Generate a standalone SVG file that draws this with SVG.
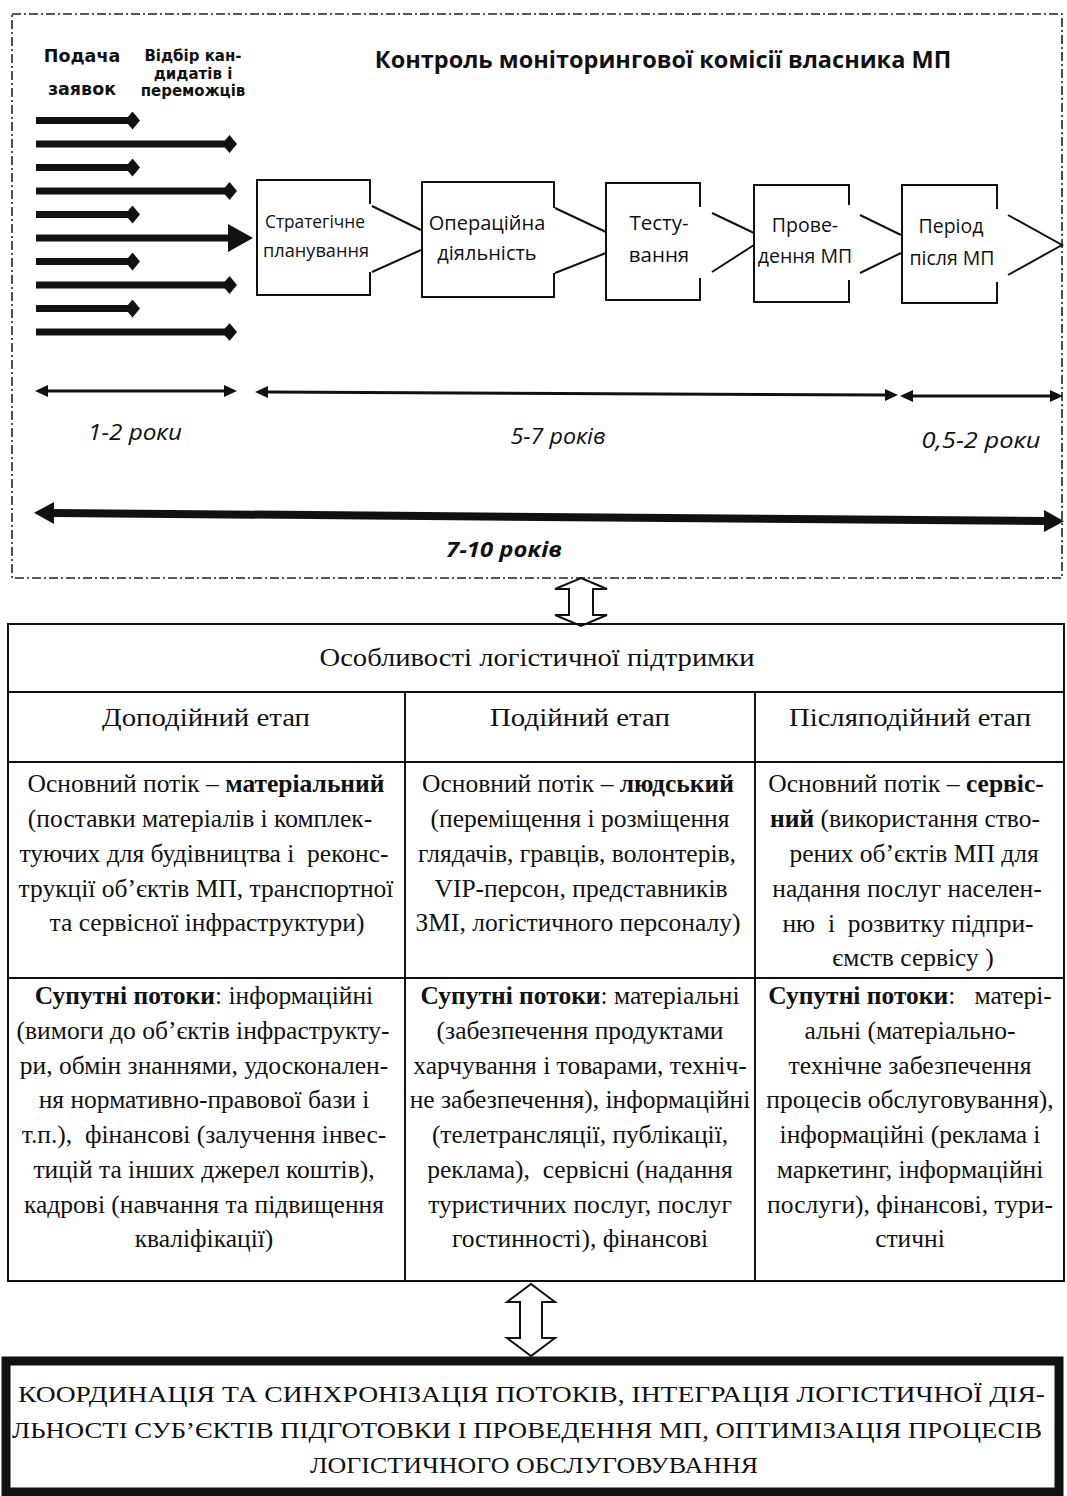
<svg xmlns="http://www.w3.org/2000/svg" width="1067" height="1496" viewBox="0 0 1067 1496">
<style>
.sans{font-family:"Open Sans","Noto Sans","DejaVu Sans",sans-serif;fill:#111}
.dj{font-family:"DejaVu Sans","Liberation Sans",sans-serif;font-weight:bold;fill:#111;text-anchor:middle}
.serif{font-family:"Liberation Serif","DejaVu Serif",serif;fill:#111}
.hd{font-weight:bold}
.bt{text-anchor:middle}
.lbl{font-size:21px;font-style:italic;text-anchor:middle}
.cell{font-size:25.5px;text-anchor:middle}
.chd{font-size:26px;text-anchor:middle}
.b{font-weight:bold}
.box{fill:none;stroke:#111;stroke-width:2}
.chev{fill:none;stroke:#111;stroke-width:2}
.frame{fill:none;stroke:#222;stroke-width:1.6;stroke-dasharray:9 3 2 3}
.grid{fill:none;stroke:#111;stroke-width:2}
.feed{stroke:#111;stroke-width:7;fill:none}
.span{stroke:#111;stroke-width:3;fill:none}
.hollow{fill:#fff;stroke:#111;stroke-width:2;stroke-linejoin:miter}
</style>
<defs>
<marker id="dia" markerUnits="userSpaceOnUse" viewBox="0 0 15 18" refX="7.5" refY="9" markerWidth="15" markerHeight="18" orient="auto"><path d="M0,9 L7.5,0 L15,9 L7.5,18 Z" fill="#111"/></marker>
<marker id="tri" markerUnits="userSpaceOnUse" viewBox="0 0 25 28" refX="0" refY="14" markerWidth="25" markerHeight="28" orient="auto"><path d="M0,0 L25,14 L0,28 Z" fill="#111"/></marker>
<marker id="ah" markerUnits="userSpaceOnUse" viewBox="0 0 13 12" refX="0" refY="6" markerWidth="13" markerHeight="12" orient="auto-start-reverse"><path d="M0,0 L13,6 L0,12 Z" fill="#111"/></marker>
<marker id="bh" markerUnits="userSpaceOnUse" viewBox="0 0 20 22" refX="0" refY="11" markerWidth="20" markerHeight="22" orient="auto-start-reverse"><path d="M0,0 L20,11 L0,22 Z" fill="#111"/></marker>
</defs>
<rect x="0" y="0" width="1067" height="1496" fill="#fff"/>

<g id="frame">
<rect class="frame" x="12" y="14" width="1050" height="564"/>
</g>

<g id="header">
<text class="sans hd" x="663" y="68" font-size="23.5" text-anchor="middle">Контроль моніторингової комісії власника МП</text>
<text class="dj" x="82" y="62" font-size="17.5">Подача</text>
<text class="dj" x="82" y="95" font-size="17.5">заявок</text>
<text class="dj" x="193" y="61" font-size="15">Відбір кан-</text>
<text class="dj" x="193" y="78.5" font-size="15">дидатів і</text>
<text class="dj" x="193" y="96" font-size="15">переможців</text>
</g>

<g id="stage1">
<path class="box" d="M370,204 V180 H257 V295 H370 V272"/>
<text class="sans bt" x="315" y="228" font-size="19" textLength="100" lengthAdjust="spacingAndGlyphs">Стратегічне</text>
<text class="sans bt" x="316" y="257" font-size="19" textLength="106" lengthAdjust="spacingAndGlyphs">планування</text>
</g>
<g id="stage2">
<path class="box" d="M554,208 V182 H422 V297 H554 V273"/>
<text class="sans bt" x="487" y="230" font-size="20">Операційна</text>
<text class="sans bt" x="487" y="260" font-size="20">діяльність</text>
</g>
<g id="stage3">
<path class="box" d="M700,207 V183 H606 V300 H700 V278"/>
<text class="sans bt" x="659" y="230" font-size="20.5">Тесту-</text>
<text class="sans bt" x="659" y="262" font-size="20.5">вання</text>
</g>
<g id="stage4">
<path class="box" d="M849,205 V185 H754 V302 H849 V280"/>
<text class="sans bt" x="805" y="232" font-size="19.5">Прове-</text>
<text class="sans bt" x="805" y="263" font-size="19.5">дення МП</text>
</g>
<g id="stage5">
<path class="box" d="M997,209 V185 H902 V303 H997 V282"/>
<text class="sans bt" x="951" y="233" font-size="19.5">Період</text>
<text class="sans bt" x="952" y="265" font-size="19.5">після МП</text>
</g>

<g id="connectors">
<path class="chev" d="M372,206 L421,230 M372,272 L421,250"/>
<path class="chev" d="M555,208 L606,232 M555,273 L606,253"/>
<path class="chev" d="M712,213 L754,233 M712,272 L754,245"/>
<path class="chev" d="M860,215 L901,235 M860,273 L901,253"/>
<path class="chev" d="M1008,215 L1062,245 L1008,275"/>

<path class="feed" d="M36,120.5 H132.5" marker-end="url(#dia)"/>
<path class="feed" d="M36,144 H229.5" marker-end="url(#dia)"/>
<path class="feed" d="M36,167.5 H132.5" marker-end="url(#dia)"/>
<path class="feed" d="M36,191 H229.5" marker-end="url(#dia)"/>
<path class="feed" d="M36,214.5 H132.5" marker-end="url(#dia)"/>
<path class="feed" d="M36,238 H228" marker-end="url(#tri)"/>
<path class="feed" d="M36,261.5 H132.5" marker-end="url(#dia)"/>
<path class="feed" d="M36,285 H229.5" marker-end="url(#dia)"/>
<path class="feed" d="M36,308.5 H132.5" marker-end="url(#dia)"/>
<path class="feed" d="M36,332 H229.5" marker-end="url(#dia)"/>

<path class="span" d="M48,391 H224" marker-start="url(#ah)" marker-end="url(#ah)"/>
<path class="span" d="M268,392 L885,395" marker-start="url(#ah)" marker-end="url(#ah)"/>
<path class="span" d="M913,396 H1050" marker-start="url(#ah)" marker-end="url(#ah)"/>
<path stroke="#111" stroke-width="8" fill="none" d="M54,513 L1044,521" marker-start="url(#bh)" marker-end="url(#bh)"/>

<polygon class="hollow" points="581,578 607,589 593,589 593,615 607,615 581,626 555,615 569,615 569,589 555,589"/>
<polygon class="hollow" points="531,1284 555,1302 542,1302 542,1338 555,1338 531,1356 507,1338 520,1338 520,1302 507,1302"/>
</g>

<g id="timeline-labels">
<text class="sans lbl" x="135" y="440" textLength="94" lengthAdjust="spacingAndGlyphs">1-2 роки</text>
<text class="sans lbl" x="558" y="444" textLength="95" lengthAdjust="spacingAndGlyphs">5-7 років</text>
<text class="sans lbl" x="981" y="448" textLength="119" lengthAdjust="spacingAndGlyphs">0,5-2 роки</text>
<text class="sans lbl hd" x="504" y="557" textLength="116" lengthAdjust="spacingAndGlyphs">7-10 років</text>
</g>

<g id="table-grid">
<rect class="grid" x="8" y="624" width="1056" height="657"/>
<path class="grid" d="M8,692 H1064 M8,762 H1064 M8,978 H1064 M405,692 V1281 M755,692 V1281"/>
</g>

<g id="cell-title">
<text class="serif chd" x="537" y="666" textLength="435" lengthAdjust="spacingAndGlyphs">Особливості логістичної підтримки</text>
</g>
<g id="cell-pre-head"><text class="serif chd" x="206" y="726" textLength="208" lengthAdjust="spacingAndGlyphs">Доподійний етап</text></g>
<g id="cell-event-head"><text class="serif chd" x="580" y="726" textLength="180" lengthAdjust="spacingAndGlyphs">Подійний етап</text></g>
<g id="cell-post-head"><text class="serif chd" x="910" y="726" textLength="242" lengthAdjust="spacingAndGlyphs">Післяподійний етап</text></g>

<g id="cell-pre-main">
<text class="serif cell" x="206" y="792">Основний потік – <tspan class="b">матеріальний</tspan></text>
<text class="serif cell" x="200" y="827">(поставки матеріалів і комплек-</text>
<text class="serif cell" x="204" y="862" xml:space="preserve">туючих для будівництва і  реконс-</text>
<text class="serif cell" x="206" y="897">трукції об’єктів МП, транспортної</text>
<text class="serif cell" x="207" y="931">та сервісної інфраструктури)</text>
</g>
<g id="cell-event-main">
<text class="serif cell" x="578" y="792">Основний потік – <tspan class="b">людський</tspan></text>
<text class="serif cell" x="580" y="827">(переміщення і розміщення</text>
<text class="serif cell" x="577" y="862">глядачів, гравців, волонтерів,</text>
<text class="serif cell" x="581" y="897">VIP-персон, представників</text>
<text class="serif cell" x="578" y="931">ЗМІ, логістичного персоналу)</text>
</g>
<g id="cell-post-main">
<text class="serif cell" x="906" y="792">Основний потік – <tspan class="b">сервіс-</tspan></text>
<text class="serif cell" x="905" y="827"><tspan class="b">ний</tspan> (використання ство-</text>
<text class="serif cell" x="914" y="862">рених об’єктів МП для</text>
<text class="serif cell" x="907" y="897">надання послуг населен-</text>
<text class="serif cell" x="908" y="932" xml:space="preserve">ню  і  розвитку підпри-</text>
<text class="serif cell" x="913" y="966">ємств сервісу )</text>
</g>

<g id="cell-pre-side">
<text class="serif cell" x="204" y="1004"><tspan class="b">Супутні потоки</tspan>: інформаційні</text>
<text class="serif cell" x="203" y="1039">(вимоги до об’єктів інфраструкту-</text>
<text class="serif cell" x="204" y="1074">ри, обмін знаннями, удосконален-</text>
<text class="serif cell" x="204" y="1108">ня нормативно-правової бази і</text>
<text class="serif cell" x="204" y="1143" xml:space="preserve">т.п.),  фінансові (залучення інвес-</text>
<text class="serif cell" x="204" y="1178">тицій та інших джерел коштів),</text>
<text class="serif cell" x="204" y="1213">кадрові (навчання та підвищення</text>
<text class="serif cell" x="204" y="1247">кваліфікації)</text>
</g>
<g id="cell-event-side">
<text class="serif cell" x="580" y="1004"><tspan class="b">Супутні потоки</tspan>: матеріальні</text>
<text class="serif cell" x="580" y="1039">(забезпечення продуктами</text>
<text class="serif cell" x="580" y="1074">харчування і товарами, техніч-</text>
<text class="serif cell" x="580" y="1108">не забезпечення), інформаційні</text>
<text class="serif cell" x="580" y="1143">(телетрансляції, публікації,</text>
<text class="serif cell" x="580" y="1178" xml:space="preserve">реклама),  сервісні (надання</text>
<text class="serif cell" x="580" y="1213">туристичних послуг, послуг</text>
<text class="serif cell" x="580" y="1247">гостинності), фінансові</text>
</g>
<g id="cell-post-side">
<text class="serif cell" x="910" y="1004" xml:space="preserve"><tspan class="b">Супутні потоки</tspan>:   матері-</text>
<text class="serif cell" x="910" y="1039">альні (матеріально-</text>
<text class="serif cell" x="910" y="1074">технічне забезпечення</text>
<text class="serif cell" x="910" y="1108">процесів обслуговування),</text>
<text class="serif cell" x="910" y="1143">інформаційні (реклама і</text>
<text class="serif cell" x="910" y="1178">маркетинг, інформаційні</text>
<text class="serif cell" x="910" y="1213">послуги), фінансові, тури-</text>
<text class="serif cell" x="910" y="1247">стичні</text>
</g>

<g id="result">
<rect x="6" y="1361" width="1053" height="131" fill="#fff" stroke="#111" stroke-width="9"/>
<text class="serif" x="18" y="1402" font-size="23.5" textLength="1027" lengthAdjust="spacingAndGlyphs">КООРДИНАЦІЯ ТА СИНХРОНІЗАЦІЯ ПОТОКІВ, ІНТЕГРАЦІЯ ЛОГІСТИЧНОЇ ДІЯ-</text>
<text class="serif" x="12" y="1438" font-size="23.5" textLength="1030" lengthAdjust="spacingAndGlyphs">ЛЬНОСТІ СУБ’ЄКТІВ ПІДГОТОВКИ І ПРОВЕДЕННЯ МП, ОПТИМІЗАЦІЯ ПРОЦЕСІВ</text>
<text class="serif" x="534" y="1473" font-size="23.5" text-anchor="middle" textLength="448" lengthAdjust="spacingAndGlyphs">ЛОГІСТИЧНОГО ОБСЛУГОВУВАННЯ</text>
</g>
</svg>
